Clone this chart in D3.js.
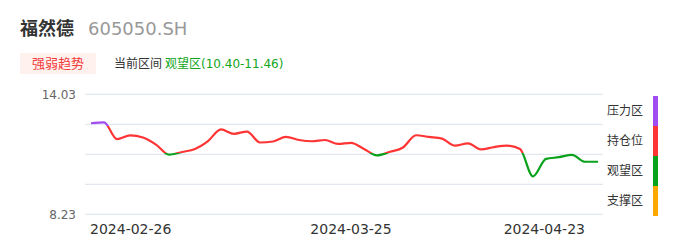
<!DOCTYPE html>
<meta charset="utf-8">
<body>
	<div id="chart"></div>
</body>
<style>
	body {
		margin: 0;
		background: #fff;
		font-family: "DejaVu Sans", "Noto Sans CJK SC", sans-serif;
	}
</style>
<script src="https://cdn.jsdelivr.net/npm/d3@7/dist/d3.min.js"></script>
<script>

// Trading days shown on the chart
const dates = [
	"2024-02-26", "2024-02-27", "2024-02-28", "2024-02-29", "2024-03-01",
	"2024-03-04", "2024-03-05", "2024-03-06", "2024-03-07", "2024-03-08",
	"2024-03-11", "2024-03-12", "2024-03-13", "2024-03-14", "2024-03-15",
	"2024-03-18", "2024-03-19", "2024-03-20", "2024-03-21", "2024-03-22",
	"2024-03-25", "2024-03-26", "2024-03-27", "2024-03-28", "2024-03-29",
	"2024-04-01", "2024-04-02", "2024-04-03", "2024-04-08", "2024-04-09",
	"2024-04-10", "2024-04-11", "2024-04-12", "2024-04-15", "2024-04-16",
	"2024-04-17", "2024-04-18", "2024-04-19", "2024-04-22", "2024-04-23"
];
// Closing price per day
const closes = [
	12.63, 12.67, 11.86, 12.04, 11.94, 11.60, 11.11, 11.24, 11.39, 11.77,
	12.33, 12.12, 12.23, 11.70, 11.75, 11.97, 11.82, 11.76, 11.82, 11.63,
	11.68, 11.39, 11.08, 11.25, 11.46, 12.05, 11.97, 11.89, 11.55, 11.66,
	11.37, 11.48, 11.55, 11.39, 10.06, 10.91, 10.99, 11.10, 10.77, 10.77
];
const xTickDates = ["2024-02-26", "2024-03-25", "2024-04-23"];
const yTicks = [8.23, 9.68, 11.13, 12.58, 14.03];
const yLabelTicks = [8.23, 14.03];

// Zones, top to bottom, and the prices that separate them
const zoneNames = ["压力区", "持仓位", "观望区", "支撑区"];
const zoneColors = ["#a04cf0", "#ff3434", "#0aa11d", "#ffa800"];
const zoneBreaks = [12.5, 11.18, 9.6];

const stockName = "福然德";
const stockCode = "605050.SH";
const currentZone = "观望区(10.40-11.46)";

const width = 686,
	height = 247;

const svg = d3.select("#chart").append("svg")
	.attr("width", width)
	.attr("height", height);

/*
 * Header: name, code and current zone
 */
svg.append("text")
	.attr("x", 20).attr("y", 35)
	.attr("font-size", 18)
	.attr("font-weight", "bold")
	.attr("fill", "#333")
	.text(stockName);
svg.append("text")
	.attr("x", 88).attr("y", 35)
	.attr("font-size", 18)
	.attr("fill", "#999")
	.text(stockCode);

svg.append("rect")
	.attr("x", 20).attr("y", 53)
	.attr("width", 76).attr("height", 21)
	.attr("fill", "#fff1ee");
svg.append("text")
	.attr("x", 58).attr("y", 68)
	.attr("text-anchor", "middle")
	.attr("font-size", 13)
	.attr("fill", "#f23a3a")
	.text("强弱趋势");
svg.append("text")
	.attr("x", 114).attr("y", 68)
	.attr("font-size", 12)
	.attr("fill", "#333")
	.text("当前区间");
svg.append("text")
	.attr("x", 165).attr("y", 68)
	.attr("font-size", 12)
	.attr("fill", "#13a520")
	.text(currentZone);

/*
 * Scales
 */
const x = d3.scalePoint()
	.domain(dates)
	.range([91, 598]);

const y = d3.scaleLinear()
	.domain([yTicks[0], yTicks[yTicks.length - 1]])
	.range([214.3, 94.3]);

// Grid lines
svg.append("g")
	.selectAll("line")
	.data(yTicks)
	.enter().append("line")
	.attr("x1", 85).attr("x2", 603)
	.attr("y1", d => y(d)).attr("y2", d => y(d))
	.attr("stroke", "#dde2ef")
	.attr("stroke-width", 1);

// Y labels (only min and max)
svg.append("g")
	.selectAll("text")
	.data(yLabelTicks)
	.enter().append("text")
	.attr("x", 76)
	.attr("y", d => y(d))
	.attr("dy", "0.35em")
	.attr("text-anchor", "end")
	.attr("font-size", 12)
	.attr("fill", "#666")
	.text(d => d.toFixed(2));

// X labels
svg.append("g")
	.selectAll("text")
	.data(xTickDates)
	.enter().append("text")
	.attr("x", d => x(d))
	.attr("y", 234)
	.attr("text-anchor", (d, i) => i === 0 ? "start" : (i === xTickDates.length - 1 ? "end" : "middle"))
	.attr("dx", (d, i) => i === 0 ? -1 : (i === xTickDates.length - 1 ? -13 : 0))
	.attr("font-size", 14)
	.attr("fill", "#333")
	.text(d => d);

/*
 * Line coloured by zone, using a vertical gradient with hard stops
 */
const yMax = y.domain()[1],
	yMin = y.domain()[0];
const grad = svg.append("defs").append("linearGradient")
	.attr("id", "zoneGrad")
	.attr("gradientUnits", "userSpaceOnUse")
	.attr("x1", 0).attr("x2", 0)
	.attr("y1", y(yMax)).attr("y2", y(yMin));

const offsets = [0].concat(zoneBreaks.map(b => (yMax - b) / (yMax - yMin)), [1]);
zoneColors.forEach(function (c, i) {
	grad.append("stop").attr("offset", offsets[i]).attr("stop-color", c);
	grad.append("stop").attr("offset", offsets[i + 1]).attr("stop-color", c);
});

const line = d3.line()
	.x((d, i) => x(dates[i]))
	.y(d => y(d))
	.curve(d3.curveMonotoneX);

svg.append("path")
	.datum(closes)
	.attr("d", line)
	.attr("fill", "none")
	.attr("stroke", "url(#zoneGrad)")
	.attr("stroke-width", 2.2)
	.attr("stroke-linejoin", "round");

/*
 * Zone legend on the right
 */
const band = d3.scaleBand()
	.domain(zoneNames)
	.range([96, 216]);

const legend = svg.append("g");
legend.selectAll("rect")
	.data(zoneNames)
	.enter().append("rect")
	.attr("x", 653)
	.attr("y", d => band(d))
	.attr("width", 5)
	.attr("height", band.bandwidth())
	.attr("fill", (d, i) => zoneColors[i]);

legend.selectAll("text")
	.data(zoneNames)
	.enter().append("text")
	.attr("x", 643)
	.attr("y", d => band(d) + band.bandwidth() / 2)
	.attr("dy", "0.35em")
	.attr("text-anchor", "end")
	.attr("font-size", 12)
	.attr("fill", "#333")
	.text(d => d);
</script>
